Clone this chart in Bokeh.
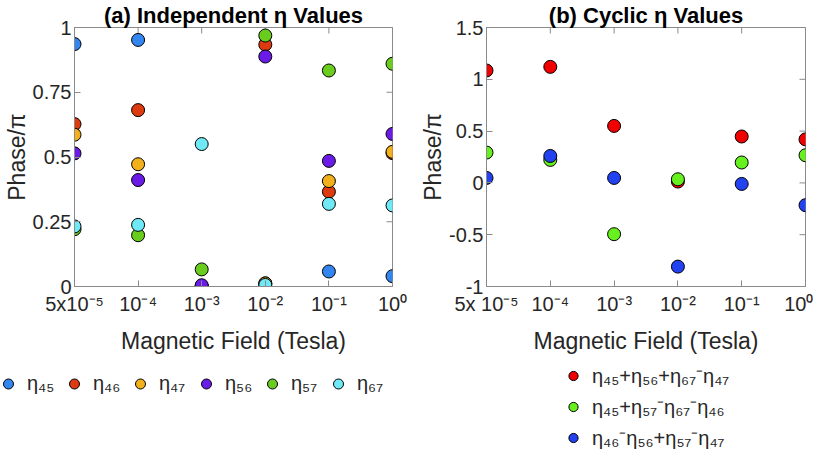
from bokeh.plotting import figure
from bokeh.models import Range1d, FixedTicker, Legend, LegendItem
from bokeh.layouts import row, column
from bokeh.embed import file_html
from bokeh.resources import INLINE

# ---------------- data ----------------
field_pos = [0, 1, 2, 3, 4, 5]
field_labels_a = ["5x10⁻⁵", "10⁻⁴", "10⁻³", "10⁻²", "10⁻¹", "10⁰"]
field_labels_b = ["5x 10⁻⁵", "10⁻⁴", "10⁻³", "10⁻²", "10⁻¹", "10⁰"]

eta45 = [0.936, 0.952, 0.000, 0.012, 0.058, 0.040]
eta46 = [0.627, 0.681, 0.000, 0.934, 0.366, 0.515]
eta47 = [0.586, 0.472, 0.000, 0.012, 0.407, 0.520]
eta56 = [0.514, 0.411, 0.005, 0.888, 0.485, 0.589]
eta57 = [0.221, 0.198, 0.066, 0.969, 0.834, 0.860]
eta67 = [0.232, 0.238, 0.550, 0.006, 0.319, 0.313]

cyc1 = [1.085, 1.120, 0.550, 0.013, 0.448, 0.420]
cyc2 = [0.293, 0.222, -0.495, 0.035, 0.197, 0.267]
cyc3 = [0.048, 0.260, 0.048, -0.808, -0.010, -0.215]

left_ticks = [0, 0.25, 0.5, 0.75, 1]
left_tick_labels = ["0", "0.25", "0.5", "0.75", "1"]
right_ticks = [-1, -0.5, 0, 0.5, 1, 1.5]
right_tick_labels = ["-1", "-0.5", "0", "0.5", "1", "1.5"]

left_names = ["η₄₅", "η₄₆", "η₄₇", "η₅₆", "η₅₇", "η₆₇"]
left_colors = ["#3385F0", "#DD3A0F", "#F2B01D", "#6A1BE6", "#6ACD1E", "#6EE9F5"]
right_names = ["η₄₅+η₅₆+η₆₇⁻η₄₇", "η₄₅+η₅₇⁻η₆₇⁻η₄₆", "η₄₆⁻η₅₆+η₅₇⁻η₄₇"]
right_colors = ["#F00000", "#66F01E", "#2241F0"]

FONT = "Liberation Sans"
TXT = "#262626"
FRAME = "#8a8a8a"


def style_axis(ax, size="20px"):
    ax.axis_line_color = FRAME
    ax.major_tick_line_color = FRAME
    ax.major_tick_in = 6
    ax.major_tick_out = 0
    ax.minor_tick_line_color = None
    ax.major_label_text_font = FONT
    ax.major_label_text_font_size = size
    ax.major_label_text_color = TXT
    ax.axis_label_text_font = FONT
    ax.axis_label_text_font_size = "23px"
    ax.axis_label_text_font_style = "normal"
    ax.axis_label_text_color = TXT


def make_fig(title, ticks, tick_labels, yr, x_labels, frame_w, left_border, right_border):
    p = figure(frame_width=frame_w, frame_height=259, output_backend="svg",
               toolbar_location=None,
               x_range=Range1d(0, 5), y_range=Range1d(*yr),
               min_border_left=left_border, min_border_right=right_border,
               min_border_top=0, min_border_bottom=66)
    p.title.text = title
    p.title.align = "center"
    p.title.text_font = FONT
    p.title.text_font_size = "22px"
    p.title.text_font_style = "bold"
    p.title.text_color = "#000000"
    p.title.text_line_height = 1.0
    p.title.standoff = 0
    p.title.offset = 0
    p.grid.visible = False
    p.outline_line_color = FRAME
    p.outline_line_width = 1
    xa = p.xaxis[0]
    ya = p.yaxis[0]
    style_axis(xa)
    style_axis(ya)
    xa.ticker = FixedTicker(ticks=field_pos)
    xa.major_label_overrides = {i: s for i, s in zip(field_pos, x_labels)}
    xa.axis_label = "Magnetic Field (Tesla)"
    xa.major_label_standoff = 6
    xa.axis_label_standoff = 10
    ya.ticker = FixedTicker(ticks=ticks)
    ya.major_label_overrides = {t: s for t, s in zip(ticks, tick_labels)}
    ya.axis_label = "Phase/π"
    ya.major_label_standoff = 3
    ya.axis_label_standoff = 0
    # mirrored ticks on top and right edges
    p.scatter(field_pos, [yr[1]] * len(field_pos), marker="dash", angle=1.5708,
              size=12, line_color=FRAME, line_width=1)
    p.scatter([5] * len(ticks), ticks, marker="dash", size=12,
              line_color=FRAME, line_width=1)
    return p


def legend_fig(width, height, names, colors, series, orientation, loc, spacing, gh):
    # the data sit outside this figure's ranges: only the legend is visible
    f = figure(width=width, height=height, output_backend="svg", toolbar_location=None,
               x_range=Range1d(-20, -19), y_range=Range1d(-20, -19),
               min_border=0, outline_line_color=None)
    f.axis.visible = False
    f.grid.visible = False
    items = []
    for name, col, ys in zip(names, colors, series):
        r = f.scatter(field_pos, ys, size=13, fill_color=col, line_color="#000000",
                      line_width=1)
        items.append(LegendItem(label=name, renderers=[r]))
    leg = Legend(items=items, orientation=orientation, location=loc,
                 label_text_font=FONT, label_text_font_size="20px", label_text_color=TXT,
                 border_line_color=None, background_fill_alpha=0, margin=0, padding=0,
                 spacing=spacing, label_standoff=5, glyph_width=28, glyph_height=gh,
                 label_width=28)
    f.add_layout(leg, "center")
    return f


left_series = [eta45, eta46, eta47, eta56, eta57, eta67]
right_series = [cyc1, cyc2, cyc3]

p1 = make_fig("(a) Independent η Values", left_ticks, left_tick_labels, (0, 1),
              field_labels_a, 318, 64, 19)
for col, ys in zip(left_colors, left_series):
    p1.scatter(field_pos, ys, size=13, fill_color=col, line_color="#000000", line_width=1)

p2 = make_fig("(b) Cyclic η Values", right_ticks, right_tick_labels, (-1, 1.5),
              field_labels_b, 319, 75, 8)
for col, ys in zip(right_colors, right_series):
    p2.scatter(field_pos, ys, size=13, fill_color=col, line_color="#000000", line_width=1)

l1 = legend_fig(401, 95, left_names, left_colors, left_series, "horizontal", (-6, 55), 5, 25)
l2 = legend_fig(402, 95, right_names, right_colors, right_series, "vertical", (158, 0), 4, 23)

layout = column(row(p1, p2), row(l1, l2))
open("out.html", "w").write(file_html(layout, INLINE))
